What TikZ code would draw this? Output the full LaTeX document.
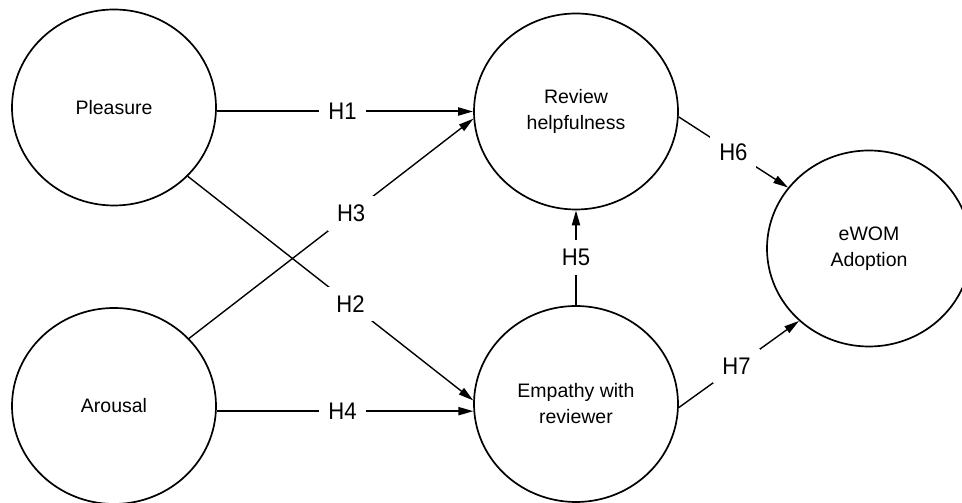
\documentclass[tikz,border=0pt]{standalone}
\usepackage{fontspec}
\setmainfont{Liberation Sans}
\newfontfamily\hypfont[FakeStretch=0.92]{Liberation Sans}
\usetikzlibrary{shapes.geometric,arrows.meta}
\begin{document}
\begin{tikzpicture}[x=1pt,y=1pt,
  construct/.style={ellipse, draw, line width=1.7pt, minimum width=204pt,
    minimum height=196pt, inner sep=0pt, align=center,
    font=\fontsize{19.5}{26}\selectfont},
  link/.style={line width=1.4pt, -{Triangle[length=15pt,width=8pt]}},
  linkthick/.style={link, line width=2pt},
  hyp/.style={fill=white, inner sep=9pt, font=\hypfont\fontsize{24}{24}\selectfont},
]
\useasboundingbox (0,0) rectangle (962,503);
\clip (0,0) rectangle (962,503);

% constructs
\node[construct] (P) at (114,395.5) {Pleasure};
\node[construct] (A) at (114,97) {Arousal};
\node[construct] (R) at (576,391.5) {Review\\helpfulness};
\node[construct] (E) at (576,99) {Empathy with\\reviewer};
\node[construct] (W) at (869,254.5) {eWOM\\Adoption};

% hypothesised paths
\draw[linkthick] (P.east |- R.west) -- node[hyp, pos=0.49] {H1} (R.west);
\draw[link] (A.42) -- node[hyp, pos=0.57] {H3} (R.184);
\draw[link] (P.-43) -- node[hyp, pos=0.57] {H2} (E.178);
\draw[linkthick] (A.east |- E.184) -- node[hyp, pos=0.49] {H4} (E.184);
\draw[linkthick] (E.north) -- node[hyp] {H5} (R.south);
\draw[link] (R.-3) -- node[hyp] {H6} (W.143);
\draw[link] (E.-2) -- node[hyp, pos=0.48] {H7} (W.226);
\end{tikzpicture}
\end{document}
